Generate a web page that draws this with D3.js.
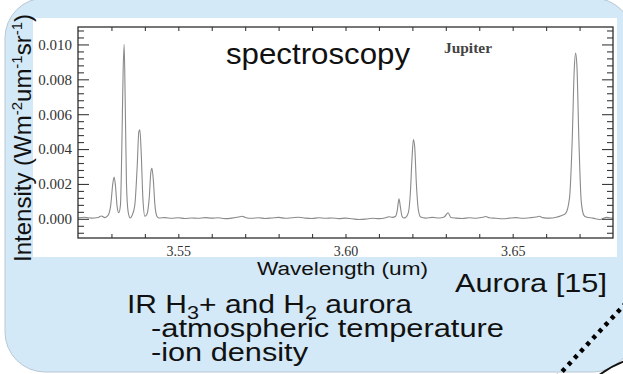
<!DOCTYPE html>
<html><head><meta charset="utf-8">
<script src="https://cdn.jsdelivr.net/npm/d3@7"></script>
<style>html,body{margin:0;padding:0;background:#fff;overflow:hidden}</style>
</head><body>
<svg id="c" width="623" height="374" xmlns="http://www.w3.org/2000/svg"></svg>
<script>
// ---- data ----
const wavelengths = [
  3.520,3.522,3.524,3.526,3.527,3.528,3.529,
  3.5298,3.5304,3.5308,3.5312,3.5317,3.5322,3.5327,3.5331,3.5335,3.5338,3.5341,3.5345,3.5350,3.5356,
  3.5362,3.5370,3.5377,3.5382,3.5385,3.5389,3.5394,3.5400,3.5406,3.5413,3.5418,3.5421,3.5425,3.5430,3.5436,3.5442,
  3.546,3.548,3.550,3.552,3.554,3.556,3.558,3.560,3.562,3.564,3.566,3.568,3.569,3.570,3.572,3.574,3.576,3.578,
  3.580,3.582,3.584,3.586,3.588,3.590,3.592,3.594,3.596,3.598,3.600,3.602,3.604,3.606,3.608,3.610,3.612,3.613,3.614,
  3.6150,3.6155,3.6160,3.6164,3.6169,3.6174,3.6180,3.6188,3.6194,3.6199,3.6203,3.6207,3.6212,3.6218,3.6225,
  3.624,3.626,3.628,3.6295,3.6307,3.6315,3.633,3.635,3.637,3.639,3.641,3.642,3.643,3.645,3.647,3.649,3.651,3.653,
  3.655,3.657,3.658,3.659,3.661,3.663,3.6645,3.6658,3.6670,3.6678,3.6684,3.6688,3.6692,3.6698,3.6705,3.6713,
  3.672,3.674,3.676,3.677,3.678,3.679,3.680
];
const intensities = [
  0.00006,0.00009,0.00004,0.00008,0.00016,0.00007,0.00020,
  0.00080,0.00200,0.00240,0.00190,0.00070,0.00035,0.00080,0.00400,0.00850,0.01000,0.00700,0.00200,0.00040,0.00005,
  0.00020,0.00080,0.00300,0.00500,0.00510,0.00380,0.00120,0.00015,0.00025,0.00120,0.00270,0.00290,0.00230,0.00080,0.00015,0.00005,
  0.00007,0.00003,0.00006,0.00002,0.00005,0.00003,0.00007,0.00004,0.00006,0.00001,0.00004,0.00010,0.00015,0.00008,0.00003,0.00006,0.00002,0.00005,
  0.00008,0.00003,0.00006,0.00009,0.00004,0.00002,0.00006,0.00003,0.00005,0.00001,0.00004,0.00000,-0.00004,-0.00002,0.00003,0.00001,0.00006,0.00012,0.00008,
  0.00015,0.00050,0.00115,0.00070,0.00015,0.00005,0.00008,0.00035,0.00150,0.00350,0.00455,0.00410,0.00200,0.00050,0.00010,
  0.00004,0.00008,0.00005,0.00010,0.00035,0.00008,0.00004,0.00002,0.00006,0.00003,0.00009,0.00013,0.00006,0.00003,0.00000,0.00004,0.00007,0.00003,
  0.00006,0.00010,0.00015,0.00007,0.00004,0.00009,0.00018,0.00030,0.00120,0.00450,0.00850,0.00950,0.00880,0.00450,0.00100,0.00020,
  0.00010,0.00004,-0.00004,0.00002,0.00008,0.00006,0.00004
];
const yMajorTicks = [0.000, 0.002, 0.004, 0.006, 0.008, 0.010];
const yTickLabels = ["0.000", "0.002", "0.004", "0.006", "0.008", "0.010"];
const yMinorTicks = [-0.0008,-0.0004,0.0004,0.0008,0.0012,0.0016,0.0024,0.0028,0.0032,0.0036,0.0044,0.0048,0.0052,0.0056,0.0064,0.0068,0.0072,0.0076,0.0084,0.0088,0.0092,0.0096,0.0104,0.0108];
const xMajorTicks = [3.55, 3.60, 3.65];
const xTickLabels = ["3.55", "3.60", "3.65"];
const xAllTicks = [3.53,3.54,3.55,3.56,3.57,3.58,3.59,3.60,3.61,3.62,3.63,3.64,3.65,3.66,3.67];

// ---- drawing ----
const svg = d3.select("#c");
const L = 78, R = 613, T = 27, B = 238;
const x = d3.scaleLinear().domain([3.52, 3.68]).range([L, R]);
const y = d3.scaleLinear().domain([-0.0011, 0.011]).range([B, T]);

svg.append("rect").attr("width", 623).attr("height", 374).attr("fill", "#fff");
// blue panel
svg.append("rect").attr("x", 5).attr("y", -2).attr("width", 628).attr("height", 374)
  .attr("rx", 40).attr("fill", "#d3e9f7").attr("stroke", "#b8c7d2").attr("stroke-width", 1);
// white plot area
svg.append("rect").attr("x", 33).attr("y", 18).attr("width", 584).attr("height", 239).attr("fill", "#fff");

// spectrum
const line = d3.line().x((d, i) => x(wavelengths[i])).y(d => y(d)).curve(d3.curveMonotoneX);
svg.append("path").datum(intensities).attr("d", line)
  .attr("fill", "none").attr("stroke", "#8a8a8a").attr("stroke-width", 1.1);

const tickCol = "#3a3a3a";
function styleAxis(g) {
  g.select(".domain").remove();
  g.selectAll(".tick line").attr("stroke", tickCol).attr("stroke-width", 1.1);
}
// left axis major + labels
svg.append("g").attr("transform", `translate(${L},0)`)
  .call(d3.axisLeft(y).tickValues(yMajorTicks).tickSize(-11).tickSizeOuter(0).tickPadding(6)
    .tickFormat((d, i) => yTickLabels[i]))
  .call(styleAxis)
  .call(g => g.selectAll("text").attr("font-family", "Liberation Serif, serif").attr("font-size", 15)
    .attr("fill", "#333"));
svg.append("g").attr("transform", `translate(${L},0)`)
  .call(d3.axisLeft(y).tickValues(yMinorTicks).tickSize(-6).tickFormat(""))
  .call(styleAxis);
// right axis
svg.append("g").attr("transform", `translate(${R},0)`)
  .call(d3.axisRight(y).tickValues(yMajorTicks).tickSize(-11).tickFormat(""))
  .call(styleAxis);
svg.append("g").attr("transform", `translate(${R},0)`)
  .call(d3.axisRight(y).tickValues(yMinorTicks).tickSize(-6).tickFormat(""))
  .call(styleAxis);
// bottom axis
svg.append("g").attr("transform", `translate(0,${B})`)
  .call(d3.axisBottom(x).tickValues(xAllTicks).tickSize(-4).tickFormat(""))
  .call(styleAxis);
svg.append("g").attr("transform", `translate(0,${B})`)
  .call(d3.axisBottom(x).tickValues(xMajorTicks).tickSize(0).tickPadding(8)
    .tickFormat((d, i) => xTickLabels[i]))
  .call(styleAxis)
  .call(g => g.selectAll("text").attr("font-family", "Liberation Serif, serif").attr("font-size", 14)
    .attr("fill", "#333"));
// top axis
svg.append("g").attr("transform", `translate(0,${T})`)
  .call(d3.axisTop(x).tickValues(xAllTicks).tickSize(-4).tickFormat(""))
  .call(styleAxis);
// frame
svg.append("rect").attr("x", L).attr("y", T).attr("width", R - L).attr("height", B - T)
  .attr("fill", "none").attr("stroke", "#2e2e2e").attr("stroke-width", 1.3);

const sans = "Liberation Sans, Arial, sans-serif";
// titles
svg.append("text").attr("x", 226).attr("y", 64).attr("font-family", sans).attr("font-size", 29)
  .attr("textLength", 184).attr("lengthAdjust", "spacingAndGlyphs").attr("fill", "#111").text("spectroscopy");
svg.append("text").attr("x", 444).attr("y", 53).attr("font-family", "Liberation Serif, serif")
  .attr("font-size", 14).attr("font-weight", "600").attr("textLength", 48).attr("lengthAdjust", "spacingAndGlyphs")
  .attr("fill", "#444").text("Jupiter");

// y label
const yl = svg.append("text").attr("transform", "translate(31,262) rotate(-90)")
  .attr("font-family", sans).attr("font-size", 24).attr("fill", "#111");
yl.append("tspan").text("Intensity (Wm");
yl.append("tspan").attr("dy", -9).attr("font-size", 15).text("-2");
yl.append("tspan").attr("dy", 9).text("um");
yl.append("tspan").attr("dy", -9).attr("font-size", 15).text("-1");
yl.append("tspan").attr("dy", 9).text("sr");
yl.append("tspan").attr("dy", -9).attr("font-size", 15).text("-1");
yl.append("tspan").attr("dy", 9).text(")");

// x label
svg.append("text").attr("x", 257).attr("y", 275).attr("font-family", sans).attr("font-size", 18)
  .attr("textLength", 171).attr("lengthAdjust", "spacingAndGlyphs").attr("fill", "#111").text("Wavelength (um)");

svg.append("text").attr("x", 455).attr("y", 292).attr("font-family", sans).attr("font-size", 26)
  .attr("textLength", 152).attr("lengthAdjust", "spacingAndGlyphs").attr("fill", "#111").text("Aurora [15]");

// description lines
const l1 = svg.append("g").attr("transform", "translate(127,313) scale(1.2,1)")
  .append("text").attr("font-family", sans).attr("font-size", 25).attr("fill", "#111");
l1.append("tspan").text("IR H");
l1.append("tspan").attr("dy", 6).attr("font-size", 18).text("3");
l1.append("tspan").attr("dy", -6).text("+ and H");
l1.append("tspan").attr("dy", 6).attr("font-size", 18).text("2");
l1.append("tspan").attr("dy", -6).text(" aurora");
svg.append("text").attr("x", 151).attr("y", 337).attr("font-family", sans).attr("font-size", 25)
  .attr("textLength", 353).attr("lengthAdjust", "spacingAndGlyphs").attr("fill", "#111").text("-atmospheric temperature");
svg.append("text").attr("x", 151).attr("y", 361).attr("font-family", sans).attr("font-size", 25)
  .attr("textLength", 157).attr("lengthAdjust", "spacingAndGlyphs").attr("fill", "#111").text("-ion density");

// decorations bottom-right
svg.append("path").attr("d", "M556,378 L627,302").attr("stroke", "#000").attr("stroke-width", 4.5)
  .attr("stroke-dasharray", "4 5").attr("fill", "none");
svg.append("path").attr("d", "M598,376 Q611,366 625,361").attr("stroke", "#111").attr("stroke-width", 2)
  .attr("fill", "none");
</script>
</body></html>
